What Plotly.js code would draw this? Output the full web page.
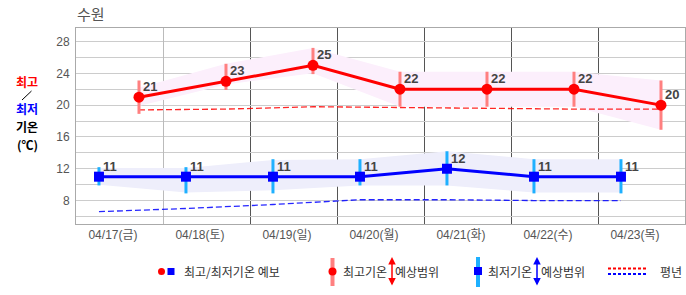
<!DOCTYPE html>
<html>
<head>
<meta charset="utf-8">
<script src="https://cdn.plot.ly/plotly-3.0.1.min.js"></script>
<style>html,body{margin:0;padding:0;background:#fff;}#chart{width:686px;height:295px;}</style>
</head>
<body>
<div id="chart"></div>
<script>
// ---- data ----
const dates = ['04/17(금)', '04/18(토)', '04/19(일)', '04/20(월)', '04/21(화)', '04/22(수)', '04/23(목)'];
const highs = [21, 23, 25, 22, 22, 22, 20];
const lows = [11, 11, 11, 11, 12, 11, 11];
const highRangeMax = [23.1, 25.2, 27.2, 24.2, 24.2, 24.2, 23.1];
const highRangeMin = [18.9, 21.9, 23.9, 19.8, 19.8, 19.8, 16.9];
const lowRangeMax = [12.2, 12.2, 13.2, 13.2, 14.2, 13.2, 13.2];
const lowRangeMin = [9.9, 8.9, 8.9, 9.9, 9.9, 8.9, 8.9];
const highBandUpper = [22.2, 25.2, 27.2, 24.2, 24.2, 24.2, 23.1];
const highBandLower = [19.9, 22.6, 24.0, 19.8, 19.8, 19.8, 16.9];
const lowBandUpper = [12.1, 12.1, 13.1, 13.2, 14.2, 13.2, 13.2];
const lowBandLower = [10.0, 9.0, 9.3, 9.9, 9.9, 9.0, 9.0];
const normalHigh = [19.4, 19.5, 19.8, 19.7, 19.6, 19.5, 19.5];
const normalLow = [6.6, 7.0, 7.5, 8.1, 8.1, 8.0, 8.0];

// ---- positions within each day cell ----
const idx = dates.map((d, i) => i);
const xHigh = idx.map(i => i + 0.724);
const xLow = idx.map(i => i + 0.264);
const xLabel = idx.map(i => i + 0.425);

const KR = '"Noto Sans CJK KR", sans-serif';
const NUM = '"Liberation Sans", "Noto Sans CJK KR", sans-serif';

const traces = [
  // bands
  {x: xHigh, y: highBandLower, mode: 'lines', line: {width: 0}, hoverinfo: 'skip', showlegend: false},
  {x: xHigh, y: highBandUpper, mode: 'lines', line: {width: 0}, fill: 'tonexty', fillcolor: '#fceffc', hoverinfo: 'skip', showlegend: false},
  {x: xLow, y: lowBandLower, mode: 'lines', line: {width: 0}, hoverinfo: 'skip', showlegend: false},
  {x: xLow, y: lowBandUpper, mode: 'lines', line: {width: 0}, fill: 'tonexty', fillcolor: '#eeeefb', hoverinfo: 'skip', showlegend: false},
  // normals
  {x: xHigh, y: normalHigh, mode: 'lines', line: {color: 'rgba(255,0,0,0.85)', width: 1.3, dash: '6px,3px'}, showlegend: false},
  {x: xLow, y: normalLow, mode: 'lines', line: {color: 'rgba(0,0,255,0.85)', width: 1.3, dash: '6px,3px'}, showlegend: false},
  // range bars
  {x: xHigh, y: highs, mode: 'markers', marker: {size: 1, opacity: 0}, showlegend: false,
   error_y: {type: 'data', symmetric: false, array: highs.map((v, i) => highRangeMax[i] - v),
             arrayminus: highs.map((v, i) => v - highRangeMin[i]), color: '#ff8080', thickness: 3, width: 0}},
  {x: xLow, y: lows, mode: 'markers', marker: {size: 1, opacity: 0}, showlegend: false,
   error_y: {type: 'data', symmetric: false, array: lows.map((v, i) => lowRangeMax[i] - v),
             arrayminus: lows.map((v, i) => v - lowRangeMin[i]), color: '#1eb0ff', thickness: 3, width: 0}},
  // main series
  {x: xHigh, y: highs, mode: 'lines+markers', line: {color: '#ff0000', width: 3},
   marker: {color: '#ff0000', size: 11, symbol: 'circle'}, showlegend: false},
  {x: xLow, y: lows, mode: 'lines+markers', line: {color: '#0000ff', width: 3},
   marker: {color: '#0000ff', size: 10, symbol: 'square'}, showlegend: false},
  // dummy for extra grid axis
  {x: [null], y: [null], xaxis: 'x2', showlegend: false, hoverinfo: 'skip'}
];

// pixel -> paper helpers for layout decorations
const L = 76, T = 28, PW = 609, PH = 196;
const px = x => (x - L) / PW;
const py = y => (T + PH - y) / PH;

const annotations = [];
highs.forEach((v, i) => annotations.push({x: xHigh[i], y: v, text: String(v), showarrow: false,
  xanchor: 'left', yanchor: 'bottom', xshift: 2, yshift: 1,
  font: {family: NUM, size: 13, color: '#444', weight: 'bold'}}));
lows.forEach((v, i) => annotations.push({x: xLow[i], y: v, text: String(v), showarrow: false,
  xanchor: 'left', yanchor: 'bottom', xshift: 2, yshift: 1,
  font: {family: NUM, size: 13, color: '#444', weight: 'bold'}}));

// left axis label
const lab = (t, y, color) => ({xref: 'paper', yref: 'paper', x: px(27), y: py(y), text: t, borderpad: 0,
  showarrow: false, xanchor: 'center', yanchor: 'middle', font: {family: KR, size: 12, color: color, weight: 'bold'}});
annotations.push(lab('최고', 81, '#ff0000'));
annotations.push(lab('최저', 108, '#0000ff'));
annotations.push(lab('기온', 126, '#000'));
annotations.push(lab('(℃)', 144, '#000'));

// legend texts
const ltxt = (t, x) => ({xref: 'paper', yref: 'paper', x: px(x), y: py(271.5), text: t, showarrow: false,
  xanchor: 'left', yanchor: 'middle', font: {family: KR, size: 12, color: '#333'}});
annotations.push(ltxt('최고/최저기온 예보', 182));
annotations.push(ltxt('최고기온', 341));
annotations.push(ltxt('예상범위', 393));
annotations.push(ltxt('최저기온', 486));
annotations.push(ltxt('예상범위', 539));
annotations.push(ltxt('평년', 658));
// legend arrows
const arr = (x, color) => ({xref: 'paper', yref: 'paper', x: px(x), y: py(257), ax: 0, ay: 30, axref: 'pixel', ayref: 'pixel',
  text: '', showarrow: true, arrowside: 'end+start', arrowhead: 2, arrowsize: 1, arrowwidth: 1.5, arrowcolor: color});
annotations.push(arr(392, '#ff0000'));
annotations.push(arr(537, '#0000ff'));

const shapes = [
  // slash between 최고 and 최저
  {type: 'line', xref: 'paper', yref: 'paper', x0: px(22), x1: px(31.5), y0: py(100), y1: py(91), line: {color: '#000', width: 1}},
  // legend marks
  {type: 'circle', xref: 'paper', yref: 'paper', x0: px(158), x1: px(165), y0: py(275), y1: py(268), fillcolor: '#ff0000', line: {width: 0}},
  {type: 'rect', xref: 'paper', yref: 'paper', x0: px(167.5), x1: px(174.5), y0: py(275), y1: py(268), fillcolor: '#0000ff', line: {width: 0}},
  {type: 'rect', xref: 'paper', yref: 'paper', x0: px(330.5), x1: px(334.5), y0: py(286), y1: py(258), fillcolor: '#ff8080', line: {width: 0}},
  {type: 'circle', xref: 'paper', yref: 'paper', x0: px(328.5), x1: px(336.5), y0: py(275.5), y1: py(267.5), fillcolor: '#ff0000', line: {width: 0}},
  {type: 'rect', xref: 'paper', yref: 'paper', x0: px(476), x1: px(480), y0: py(287), y1: py(257), fillcolor: '#1eb0ff', line: {width: 0}},
  {type: 'rect', xref: 'paper', yref: 'paper', x0: px(474), x1: px(482), y0: py(275), y1: py(267), fillcolor: '#0000ff', line: {width: 0}},
  {type: 'line', xref: 'paper', yref: 'paper', x0: px(608), x1: px(647), y0: py(268.5), y1: py(268.5), line: {color: '#ff0000', width: 2, dash: '3px,2px'}},
  {type: 'line', xref: 'paper', yref: 'paper', x0: px(608), x1: px(647), y0: py(274), y1: py(274), line: {color: '#0000ff', width: 2, dash: '3px,2px'}}
];

const layout = {
  width: 686, height: 295,
  margin: {l: 76, r: 1, t: 28, b: 71},
  paper_bgcolor: '#fff', plot_bgcolor: '#fff',
  showlegend: false,
  title: {text: '수원', x: px(77), xref: 'paper', xanchor: 'left', y: 1 - 15 / 295, yref: 'container', yanchor: 'middle',
          font: {family: KR, size: 15, color: '#555'}},
  xaxis: {range: [0, 7], tickmode: 'array', tickvals: xLabel, ticktext: dates, showgrid: false, zeroline: false,
          showline: true, mirror: true, linecolor: '#aaa', linewidth: 1, ticks: '',
          tickfont: {family: NUM, size: 12, color: '#555'},
          minor: {tickmode: 'array', tickvals: [2, 3, 4, 5, 6], showgrid: true, gridcolor: '#555', gridwidth: 1, ticks: ''}},
  xaxis2: {range: [0, 7], overlaying: 'x', tickmode: 'array', tickvals: [1], showgrid: true, gridcolor: '#bbb',
           showticklabels: false, ticks: '', zeroline: false, showline: false},
  yaxis: {range: [5.05, 29.7], tickmode: 'linear', tick0: 0, dtick: 4, showgrid: true, gridcolor: '#ccc', zeroline: false,
          showline: true, mirror: true, linecolor: '#aaa', linewidth: 1, ticks: '', ticklabelstandoff: 3,
          tickfont: {family: NUM, size: 12, color: '#555'},
          minor: {dtick: 2, tick0: 0, showgrid: true, gridcolor: '#ccc', ticks: ''}},
  annotations: annotations,
  shapes: shapes
};

Plotly.newPlot('chart', traces, layout, {displayModeBar: false, staticPlot: true});
</script>
</body>
</html>
